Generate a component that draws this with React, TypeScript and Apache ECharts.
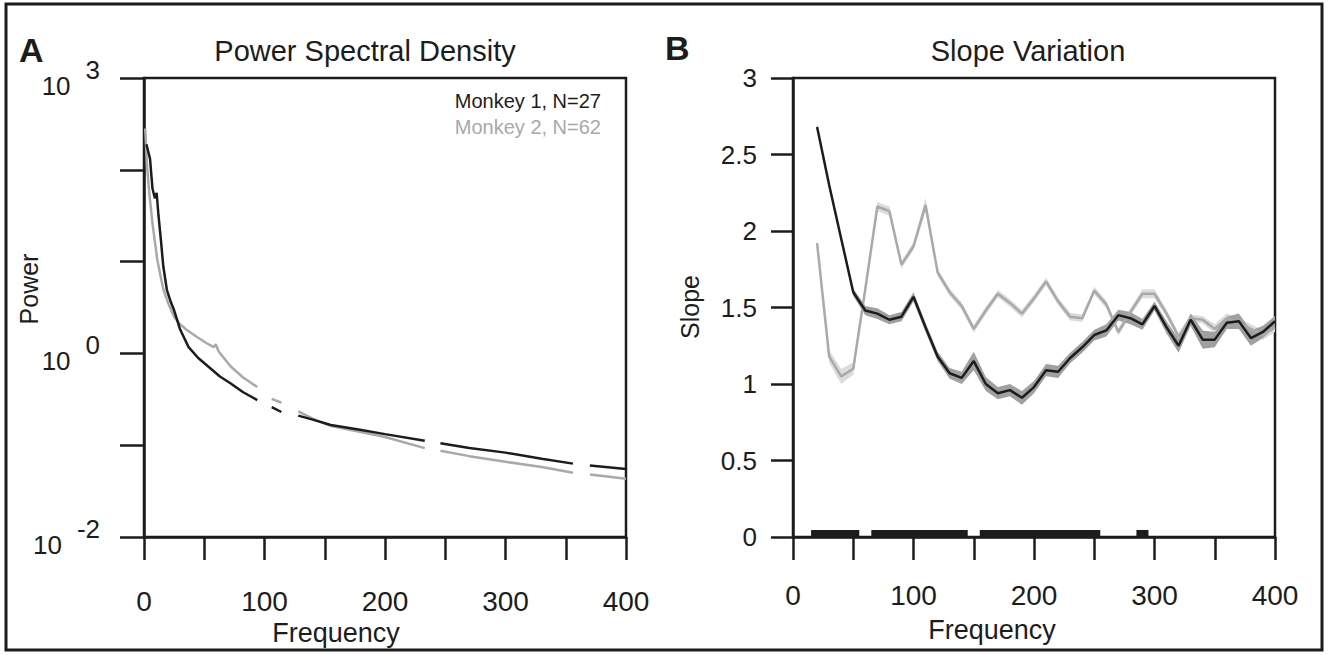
import React, { useEffect, useRef } from 'react';
import * as echarts from 'echarts';

const FONT = '"Liberation Sans", Arial, Helvetica, sans-serif';
const INK = '#1c1c1c';
const GRAY = '#a9a9a9';

// ---- Panel A: power spectral density (null = gap in the trace) ----
const psdFreqM1 = [2, 5, 7, 9, 10.5, 12, 14, 16, 19, 22, 25, 30, 37, 45, 55, 63, 72, 82, 94, 100, 106, 114, 120, 128, 140, 155, 178, 200, 233, 240, 246, 270, 300, 330, 356, 363, 370, 400];
const psdPowerM1 = [190, 132, 63, 49, 56, 32, 17.4, 8.9, 4.9, 3.7, 2.95, 1.82, 1.17, 0.89, 0.69, 0.56, 0.47, 0.38, 0.31, null, 0.26, 0.23, null, 0.21, 0.19, 0.166, 0.148, 0.132, 0.112, null, 0.105, 0.093, 0.083, 0.071, 0.063, null, 0.06, 0.055];

const psdFreqM2 = [1, 2.5, 4, 7, 11, 16, 20, 25, 29, 35, 44, 52, 58, 59.5, 62, 72, 82, 94, 100, 106, 114, 120, 128, 140, 155, 178, 200, 233, 240, 246, 270, 300, 330, 356, 363, 370, 400];
const psdPowerM2 = [282, 112, 63, 26.3, 10.5, 5.0, 3.55, 2.51, 2.14, 1.82, 1.51, 1.29, 1.17, 1.26, 1.05, 0.72, 0.55, 0.43, null, 0.32, 0.29, null, 0.234, 0.195, 0.162, 0.141, 0.123, 0.093, null, 0.087, 0.076, 0.066, 0.058, 0.05, null, 0.048, 0.043];

// ---- Panel B: slope variation ----
const slopeFreq = [20, 30, 40, 50, 60, 70, 80, 90, 100, 110, 120, 130, 140, 150, 160, 170, 180, 190, 200, 210, 220, 230, 240, 250, 260, 270, 280, 290, 300, 310, 320, 330, 340, 350, 360, 370, 380, 390, 400];
const slopeM1 = [2.68, 2.3, 1.95, 1.6, 1.48, 1.46, 1.42, 1.44, 1.57, 1.37, 1.18, 1.07, 1.04, 1.15, 1.0, 0.94, 0.96, 0.91, 0.98, 1.09, 1.08, 1.17, 1.24, 1.32, 1.35, 1.45, 1.43, 1.39, 1.51, 1.37, 1.25, 1.42, 1.29, 1.29, 1.4, 1.41, 1.3, 1.34, 1.41];
const errM1 = [0.02, 0.02, 0.02, 0.025, 0.03, 0.035, 0.03, 0.03, 0.03, 0.03, 0.03, 0.035, 0.04, 0.06, 0.045, 0.04, 0.04, 0.045, 0.04, 0.04, 0.04, 0.035, 0.035, 0.035, 0.04, 0.035, 0.04, 0.035, 0.03, 0.04, 0.045, 0.04, 0.06, 0.05, 0.04, 0.05, 0.05, 0.04, 0.035];
const slopeM2 = [1.92, 1.18, 1.05, 1.1, 1.62, 2.16, 2.13, 1.78, 1.9, 2.17, 1.73, 1.6, 1.51, 1.36, 1.48, 1.59, 1.53, 1.46, 1.56, 1.67, 1.54, 1.44, 1.43, 1.61, 1.52, 1.34, 1.47, 1.59, 1.59, 1.46, 1.31, 1.43, 1.42, 1.36, 1.43, 1.4, 1.36, 1.32, 1.37];
const errM2 = [0.02, 0.04, 0.05, 0.04, 0.03, 0.03, 0.03, 0.025, 0.025, 0.045, 0.025, 0.025, 0.025, 0.025, 0.025, 0.025, 0.025, 0.025, 0.025, 0.025, 0.025, 0.025, 0.025, 0.025, 0.025, 0.025, 0.025, 0.03, 0.03, 0.025, 0.025, 0.025, 0.025, 0.03, 0.03, 0.03, 0.03, 0.03, 0.03];

// significant frequency ranges [start, end]
const sigStart = [15, 65, 155, 285];
const sigEnd = [55, 145, 255, 295];

const xTickLabels = ['0', '100', '200', '300', '400'];
const logLabelExps = [3, 0, -2];
const legendNames = ['Monkey 1, N=27', 'Monkey 2, N=62'];

const SIG_H = 0.046;

export default function App() {
  const ref = useRef<HTMLDivElement>(null);
  useEffect(() => {
    document.body.style.margin = '0';
    const chart = echarts.init(ref.current!, null, { renderer: 'svg' });

    const pair = (xs: number[], ys: (number | null)[]) => xs.map((x, i) => [x, ys[i] == null ? '-' : ys[i]]);
    const xAxisBase = (grid: number, margin: number) => ({
      gridIndex: grid,
      type: 'value',
      min: 0,
      max: 400,
      interval: 50,
      axisLine: { show: true, onZero: false, lineStyle: { color: INK, width: 2.5 } },
      axisTick: { show: true, inside: false, length: 23, lineStyle: { color: INK, width: 2.5 } },
      axisLabel: {
        margin,
        fontSize: 28,
        color: INK,
        fontFamily: FONT,
        formatter: (v: number) => (xTickLabels.includes(String(v)) ? String(v) : ''),
      },
      splitLine: { show: false },
    });

    const bandSeries = (vals: number[], errs: number[], color: string) => ({
      type: 'custom',
      xAxisIndex: 1,
      yAxisIndex: 1,
      z: 2,
      silent: true,
      data: slopeFreq.map((f, i) => [f, vals[i] - errs[i], vals[i] + errs[i]]),
      encode: { x: 0, y: [1, 2] },
      renderItem: (params: any, api: any) => {
        if (params.dataIndex !== 0) return null;
        const n = params.dataInsideLength;
        const upper: number[][] = [];
        const lower: number[][] = [];
        for (let i = 0; i < n; i++) {
          upper.push(api.coord([api.value(0, i), api.value(2, i)]));
          lower.push(api.coord([api.value(0, i), api.value(1, i)]));
        }
        return { type: 'polygon', shape: { points: upper.concat(lower.reverse()) }, style: { fill: color } };
      },
    });

    const textEl = (text: string, x: number, y: number, size: number, extra: any = {}) => ({
      type: 'text',
      x,
      y,
      style: { text, fontSize: size, fontFamily: FONT, fill: INK, align: 'center', verticalAlign: 'middle', ...extra },
    });

    const option: any = {
      animation: false,
      backgroundColor: '#fff',
      grid: [
        { left: 144, top: 78, width: 482, height: 459, show: true, borderColor: INK, borderWidth: 2.5, backgroundColor: 'transparent' },
        { left: 793, top: 78, width: 482, height: 459, show: true, borderColor: INK, borderWidth: 2.5, backgroundColor: 'transparent' },
      ],
      xAxis: [xAxisBase(0, 50), xAxisBase(1, 44)],
      yAxis: [
        {
          gridIndex: 0,
          type: 'log',
          logBase: 10,
          min: 0.01,
          max: 1000,
          axisLine: { show: true, lineStyle: { color: INK, width: 2.5 } },
          axisTick: { show: true, inside: false, length: 24, lineStyle: { color: INK, width: 2.5 } },
          axisLabel: {
            margin: 44,
            color: INK,
            fontFamily: FONT,
            formatter: (v: number) => {
              const e = Math.round(Math.log10(v));
              return logLabelExps.includes(e) ? `{b|10}{e|${e}}` : '';
            },
            rich: {
              b: { fontSize: 26, fontFamily: FONT, color: INK, padding: [16, 0, 0, 0] },
              e: { fontSize: 26, fontFamily: FONT, color: INK, padding: [0, 0, 16, 15] },
            },
          },
          splitLine: { show: false },
        },
        {
          gridIndex: 1,
          type: 'value',
          min: 0,
          max: 3,
          interval: 0.5,
          axisLine: { show: true, lineStyle: { color: INK, width: 2.5 } },
          axisTick: { show: true, inside: false, length: 22, lineStyle: { color: INK, width: 2.5 } },
          axisLabel: { margin: 36, fontSize: 26, color: INK, fontFamily: FONT },
          splitLine: { show: false },
        },
      ],
      series: [
        {
          type: 'line', xAxisIndex: 0, yAxisIndex: 0, data: pair(psdFreqM2, psdPowerM2),
          showSymbol: false, connectNulls: false, lineStyle: { color: GRAY, width: 2.5 }, z: 3,
        },
        {
          type: 'line', xAxisIndex: 0, yAxisIndex: 0, data: pair(psdFreqM1, psdPowerM1),
          showSymbol: false, connectNulls: false, lineStyle: { color: INK, width: 2.5 }, z: 4,
        },
        bandSeries(slopeM2, errM2, '#dcdcdc'),
        bandSeries(slopeM1, errM1, '#a0a0a0'),
        {
          type: 'line', xAxisIndex: 1, yAxisIndex: 1, data: slopeFreq.map((f, i) => [f, slopeM2[i]]),
          showSymbol: false, lineStyle: { color: GRAY, width: 2.5 }, z: 3,
        },
        {
          type: 'line', xAxisIndex: 1, yAxisIndex: 1, data: slopeFreq.map((f, i) => [f, slopeM1[i]]),
          showSymbol: false, lineStyle: { color: INK, width: 2.5 }, z: 4,
        },
        {
          type: 'custom', xAxisIndex: 1, yAxisIndex: 1, z: 5,
          data: sigStart.map((s, i) => [s, sigEnd[i]]),
          encode: { x: [0, 1] },
          renderItem: (params: any, api: any) => {
            const a = api.coord([api.value(0), 0]);
            const b = api.coord([api.value(1), SIG_H]);
            return { type: 'rect', shape: { x: a[0], y: b[1], width: b[0] - a[0], height: a[1] - b[1] }, style: { fill: INK } };
          },
        },
      ],
      graphic: [
        { type: 'rect', shape: { x: 6, y: 4, width: 1316, height: 646 }, style: { fill: 'none', stroke: INK, lineWidth: 3 }, z: 10 },
        textEl('A', 19, 50, 34, { fontWeight: 'bold', align: 'left' }),
        textEl('B', 665, 48, 34, { fontWeight: 'bold', align: 'left' }),
        textEl('Power Spectral Density', 365, 51, 29),
        textEl('Slope Variation', 1028, 51, 29),
        textEl(legendNames[0], 601, 101, 20, { align: 'right' }),
        textEl(legendNames[1], 601, 127, 20, { align: 'right', fill: GRAY }),
        { ...textEl('Power', 0, 0, 25), x: 29, y: 289, rotation: Math.PI / 2 },
        { ...textEl('Slope', 0, 0, 25), x: 690, y: 307, rotation: Math.PI / 2 },
        textEl('Frequency', 336, 633, 27),
        textEl('Frequency', 992, 630, 27),
      ],
    };
    chart.setOption(option);
    return () => chart.dispose();
  }, []);
  return <div ref={ref} style={{ width: 1328, height: 655 }} />;
}
